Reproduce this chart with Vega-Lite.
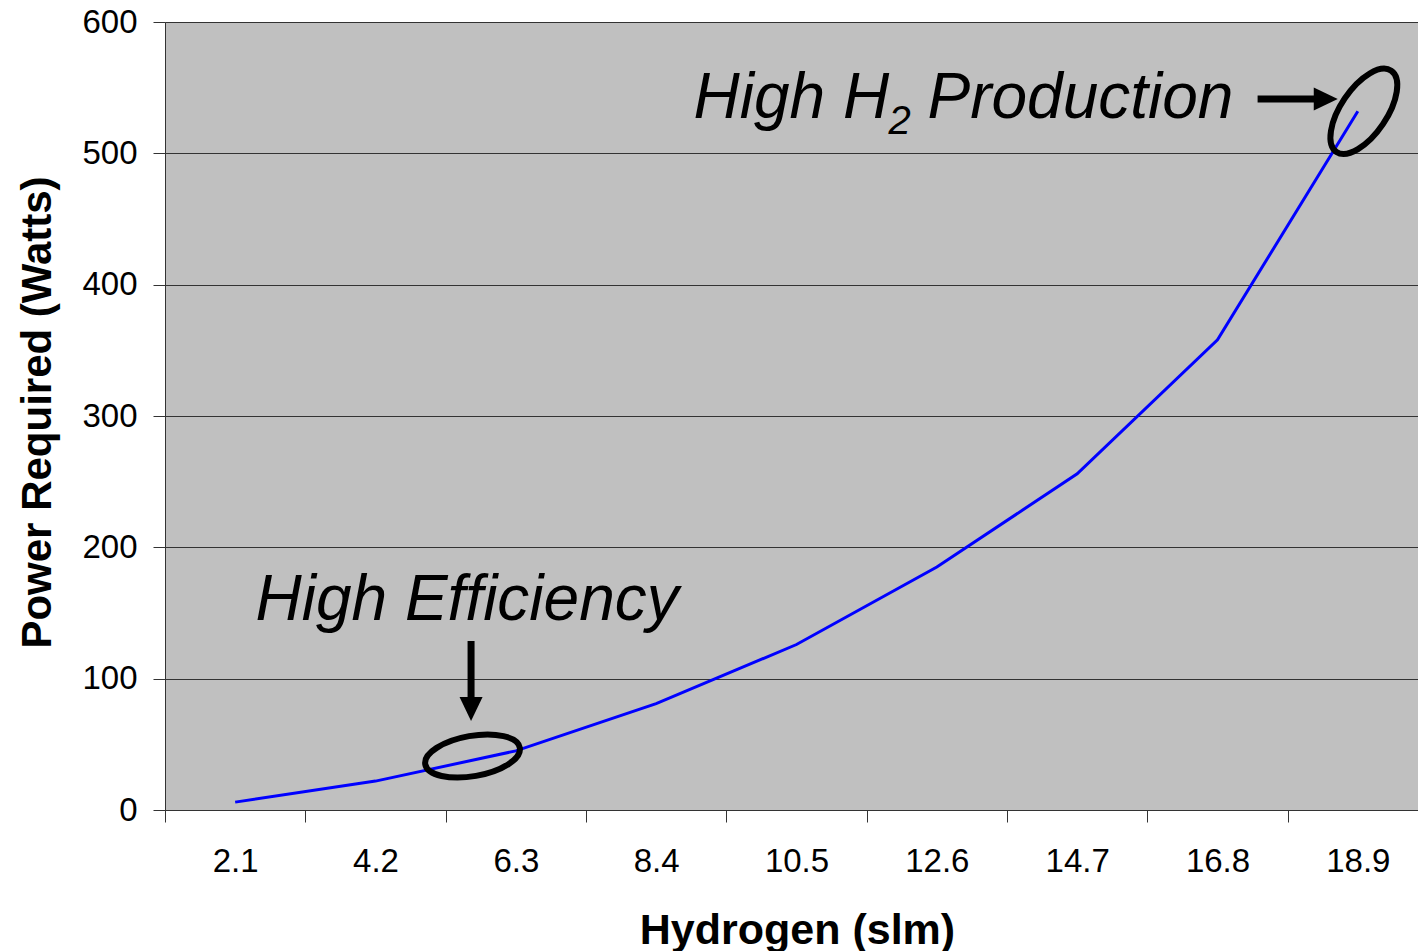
{
  "$schema": "https://vega.github.io/schema/vega-lite/v6.json",
  "width": 1253,
  "height": 788,
  "autosize": "none",
  "padding": {"left": 165, "top": 22, "right": 0, "bottom": 141},
  "background": "white",
  "config": {
    "view": {"fill": "#C0C0C0", "stroke": null},
    "font": "Liberation Sans"
  },
  "resolve": {"scale": {"x": "independent"}},
  "layer": [
    {
      "data": {"values": [
        {"h": 2.1, "p": 6},
        {"h": 4.2, "p": 22},
        {"h": 6.3, "p": 45},
        {"h": 8.4, "p": 81},
        {"h": 10.5, "p": 126},
        {"h": 12.6, "p": 185},
        {"h": 14.7, "p": 256},
        {"h": 16.8, "p": 358},
        {"h": 18.9, "p": 532}
      ]},
      "mark": {"type": "line", "color": "#0000FF", "strokeWidth": 3},
      "encoding": {
        "x": {
          "field": "h", "type": "ordinal", "sort": null,
          "scale": {"type": "band", "paddingInner": 0, "paddingOuter": 0, "range": [0, 1263]},
          "axis": {
            "title": "Hydrogen (slm)",
            "labelAngle": 0,
            "labelFontSize": 33,
            "labelColor": "black",
            "labelPadding": 23,
            "tickBand": "extent",
            "tickSize": 12,
            "tickColor": "#333333",
            "domainColor": "#333333",
            "grid": false,
            "titleFontSize": 43,
            "titleFontWeight": "bold",
            "titleColor": "black",
            "titleX": 632,
            "titleY": 133,
            "titleAlign": "center",
            "titleBaseline": "alphabetic"
          }
        },
        "y": {
          "field": "p", "type": "quantitative",
          "scale": {"domain": [0, 600], "nice": false},
          "axis": {
            "title": "Power Required (Watts)",
            "values": [0, 100, 200, 300, 400, 500, 600],
            "labelFontSize": 33,
            "labelColor": "black",
            "labelPadding": 16,
            "tickSize": 12,
            "tickColor": "#333333",
            "domainColor": "#333333",
            "grid": true,
            "gridColor": "#333333",
            "gridOpacity": 1,
            "gridWidth": 1,
            "titleFontSize": 42,
            "titleFontWeight": "bold",
            "titleColor": "black",
            "titleAngle": -90,
            "titleX": -115,
            "titleY": 390,
            "titleAlign": "center",
            "titleBaseline": "alphabetic"
          }
        }
      }
    },
    {
      "data": {"values": [{"x": 5.652, "y": 41.1}]},
      "mark": {"type": "point", "shape": "M -1 0 C -1 -0.232 -0.552 -0.42 0 -0.42 C 0.552 -0.42 1 -0.232 1 0 C 1 0.232 0.552 0.42 0 0.42 C -0.552 0.42 -1 0.232 -1 0 Z", "size": 9216, "angle": 350, "filled": false, "stroke": "black", "strokeWidth": 6, "opacity": 1},
      "encoding": {
        "x": {"field": "x", "type": "quantitative", "scale": {"domain": [1.05, 19.95], "range": [0, 1263], "nice": false, "zero": false}, "axis": null},
        "y": {"field": "y", "type": "quantitative"}
      }
    },
    {
      "data": {"values": [{"x": 18.99, "y": 532}]},
      "mark": {"type": "point", "shape": "M -1 0 C -1 -0.26 -0.552 -0.47 0 -0.47 C 0.552 -0.47 1 -0.26 1 0 C 1 0.26 0.552 0.47 0 0.47 C -0.552 0.47 -1 0.26 -1 0 Z", "size": 9604, "angle": 304, "filled": false, "stroke": "black", "strokeWidth": 6, "opacity": 1},
      "encoding": {
        "x": {"field": "x", "type": "quantitative", "scale": {"domain": [1.05, 19.95], "range": [0, 1263], "nice": false, "zero": false}, "axis": null},
        "y": {"field": "y", "type": "quantitative"}
      }
    },
    {
      "data": {"values": [{"x": 17.40, "x2": 18.28, "y": 541.4}]},
      "mark": {"type": "rule", "color": "black", "strokeWidth": 7},
      "encoding": {
        "x": {"field": "x", "type": "quantitative", "scale": {"domain": [1.05, 19.95], "range": [0, 1263], "nice": false, "zero": false}, "axis": null},
        "x2": {"field": "x2"},
        "y": {"field": "y", "type": "quantitative"}
      }
    },
    {
      "data": {"values": [{"x": 18.42, "y": 541.4}]},
      "mark": {"type": "point", "shape": "M -1 -0.96 L 1 0 L -1 0.96 Z", "size": 576, "filled": true, "color": "black", "strokeWidth": 0, "opacity": 1},
      "encoding": {
        "x": {"field": "x", "type": "quantitative", "scale": {"domain": [1.05, 19.95], "range": [0, 1263], "nice": false, "zero": false}, "axis": null},
        "y": {"field": "y", "type": "quantitative"}
      }
    },
    {
      "data": {"values": [{"x": 5.63, "y": 128.7, "y2": 83.8}]},
      "mark": {"type": "rule", "color": "black", "strokeWidth": 7},
      "encoding": {
        "x": {"field": "x", "type": "quantitative", "scale": {"domain": [1.05, 19.95], "range": [0, 1263], "nice": false, "zero": false}, "axis": null},
        "y": {"field": "y", "type": "quantitative"},
        "y2": {"field": "y2"}
      }
    },
    {
      "data": {"values": [{"x": 5.63, "y": 76.9}]},
      "mark": {"type": "point", "shape": "M -0.96 -1 L 0 1 L 0.96 -1 Z", "size": 576, "filled": true, "color": "black", "strokeWidth": 0, "opacity": 1},
      "encoding": {
        "x": {"field": "x", "type": "quantitative", "scale": {"domain": [1.05, 19.95], "range": [0, 1263], "nice": false, "zero": false}, "axis": null},
        "y": {"field": "y", "type": "quantitative"}
      }
    },
    {
      "data": {"values": [
        {"x": 2.404, "y": 144.7, "label": "High Efficiency"},
        {"x": 8.959, "y": 526.9, "label": "High H"},
        {"x": 12.46, "y": 526.9, "label": "Production"}
      ]},
      "mark": {"type": "text", "font": "Liberation Sans", "fontStyle": "italic", "fontSize": 64, "align": "left", "baseline": "alphabetic", "color": "black"},
      "encoding": {
        "x": {"field": "x", "type": "quantitative", "scale": {"domain": [1.05, 19.95], "range": [0, 1263], "nice": false, "zero": false}, "axis": null},
        "y": {"field": "y", "type": "quantitative"},
        "text": {"field": "label"}
      }
    },
    {
      "data": {"values": [{"x": 11.877, "y": 514.7, "label": "2"}]},
      "mark": {"type": "text", "font": "Liberation Sans", "fontStyle": "italic", "fontSize": 40, "align": "left", "baseline": "alphabetic", "color": "black"},
      "encoding": {
        "x": {"field": "x", "type": "quantitative", "scale": {"domain": [1.05, 19.95], "range": [0, 1263], "nice": false, "zero": false}, "axis": null},
        "y": {"field": "y", "type": "quantitative"},
        "text": {"field": "label"}
      }
    }
  ]
}
